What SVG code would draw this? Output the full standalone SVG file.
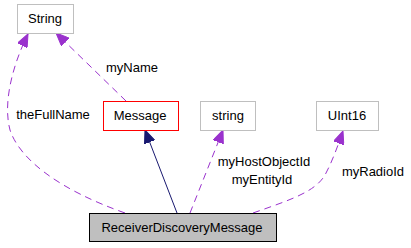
<svg xmlns="http://www.w3.org/2000/svg" width="411" height="248" viewBox="0 0 411 248">
<style>
text{font-family:"Liberation Sans",Arial,sans-serif;font-size:13px;fill:#000;text-anchor:middle}
.box{fill:#fff;stroke:#bfbfbf;stroke-width:1}
.use{fill:none;stroke:#9a32cd;stroke-width:1;stroke-dasharray:7,5}
.inh{fill:none;stroke:#191970;stroke-width:1}
</style>
<defs>
<marker id="ap" markerUnits="userSpaceOnUse" markerWidth="13" markerHeight="11" viewBox="0 0 13 11" refX="13" refY="5.5" orient="auto">
<path d="M0,0 L13,5.5 L0,11 z" fill="#9a32cd" stroke="#9a32cd"/>
</marker>
<marker id="ai" markerUnits="userSpaceOnUse" markerWidth="13" markerHeight="11" viewBox="0 0 13 11" refX="13" refY="5.5" orient="auto">
<path d="M0,0 L13,5.5 L0,11 z" fill="#191970" stroke="#191970"/>
</marker>
</defs>
<g id="connectors">
<path class="inh" d="M177,213 L145,130" marker-end="url(#ai)"/>
<path class="use" d="M126,101 L56,33" marker-end="url(#ap)"/>
<path class="use" d="M125,213 C60,190 20,160 10,130 C2,100 15,60 28,34" marker-end="url(#ap)"/>
<path class="use" d="M190,213 L223,130" marker-end="url(#ap)"/>
<path class="use" d="M253,213 C290,200 315,192 325,175 C333,160 338,145 343,131" marker-end="url(#ap)"/>
<text x="132" y="71.5">myName</text>
<text x="53" y="118.5">theFullName</text>
<text x="264" y="166">myHostObjectId</text>
<text x="262" y="184">myEntityId</text>
<text x="373" y="175.5">myRadioId</text>
</g>
<g id="String"><rect class="box" x="17.5" y="4.5" width="56" height="29"/><text x="45" y="23">String</text></g>
<g id="Message"><rect x="103.5" y="101.5" width="75" height="29" fill="#fff" stroke="#ff0000"/><text x="140" y="119.5">Message</text></g>
<g id="string"><rect class="box" x="200.5" y="101.5" width="55" height="29"/><text x="228" y="119.5">string</text></g>
<g id="UInt16"><rect class="box" x="316.5" y="101.5" width="62" height="29"/><text x="347" y="119.5">UInt16</text></g>
<g id="ReceiverDiscoveryMessage"><rect x="89.5" y="213.5" width="187" height="28" fill="#bfbfbf" stroke="#000"/><text x="182" y="232">ReceiverDiscoveryMessage</text></g>
</svg>
